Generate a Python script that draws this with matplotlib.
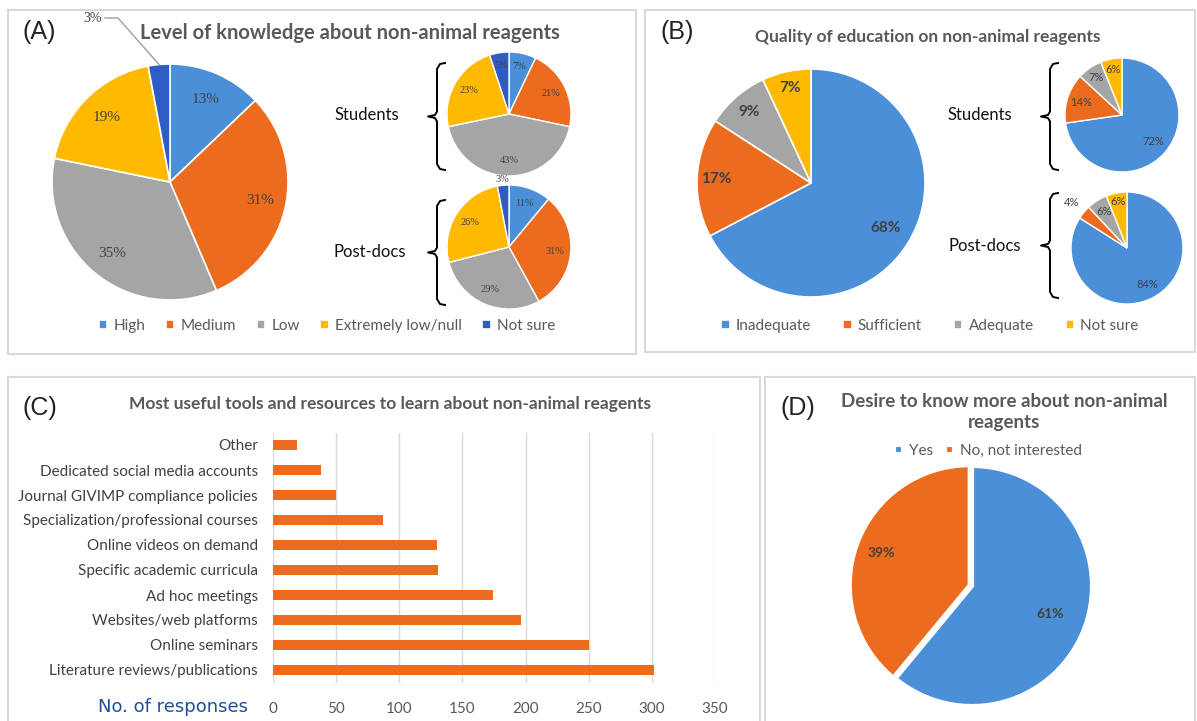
import numpy as np
import matplotlib
matplotlib.use('Agg')
from matplotlib import pyplot as plt
from matplotlib.patches import Rectangle
from matplotlib.lines import Line2D

# ---- data ----
knowledgeLevels = ['High', 'Medium', 'Low', 'Extremely low/null', 'Not sure']
knowAll = [13, 31, 35, 19, 3]
knowStudents = [7, 21, 43, 23, 5]
knowPostdocs = [11, 31, 29, 26, 3]

eduLevels = ['Inadequate', 'Sufficient', 'Adequate', 'Not sure']
eduAll = [68, 17, 9, 7]
eduStudents = [72, 14, 7, 6]
eduPostdocs = [84, 4, 6, 6]

tools = ['Literature reviews/publications', 'Online seminars', 'Websites/web platforms',
         'Ad hoc meetings', 'Specific academic curricula', 'Online videos on demand',
         'Specialization/professional courses', 'Journal GIVIMP compliance policies',
         'Dedicated social media accounts', 'Other']
toolCounts = [302, 250, 196, 174, 131, 130, 87, 50, 38, 19]
xTicks = [0, 50, 100, 150, 200, 250, 300, 350]

desireLabels = ['Yes', 'No, not interested']
desireVals = [61, 39]

blue = '#4A8FD8'
orange = '#EC6B1E'
gray = '#A5A5A5'
yellow = '#FFB900'
navy = '#2E5BC4'
knowColors = [blue, orange, gray, yellow, navy]
eduColors = [blue, orange, gray, yellow]

W, H = 1197, 721
fig = plt.figure(figsize=(W / 100, H / 100), dpi=100)
fig.patch.set_facecolor('white')

sansFont = 'Lato'
serifFont = 'Liberation Serif'
armFont = 'Liberation Sans'
txtGray = '#595959'


def fp(x, y):
    return x / W, 1 - y / H


def axPx(x0, y0, w, h):
    return fig.add_axes([x0 / W, 1 - (y0 + h) / H, w / W, h / H])


def pieAx(cx, cy, r):
    ax = axPx(cx - r, cy - r, 2 * r, 2 * r)
    ax.set_xlim(-1, 1)
    ax.set_ylim(-1, 1)
    ax.axis('off')
    return ax


def drawPie(ax, vals, colors, dists, size, font, weight='normal', color='#404040', lw=1.2, explode=None):
    wedges, _ = ax.pie(vals, colors=colors, startangle=90, counterclock=False, radius=1,
                       explode=explode, wedgeprops=dict(edgecolor='white', linewidth=lw))
    ax.set_xlim(-1, 1)
    ax.set_ylim(-1, 1)
    for w, v, d in zip(wedges, vals, dists):
        if d is None:
            continue
        a = np.deg2rad((w.theta1 + w.theta2) / 2)
        ax.text(d * np.cos(a), d * np.sin(a), f'{v}%', ha='center', va='center',
                fontsize=size, family=font, weight=weight, color=color, clip_on=False)
    return wedges


def brace(x, y0, y1):
    ym = (y0 + y1) / 2
    pts = [(x + 8, y0), (x + 3, y0 + 1), (x, y0 + 6), (x, ym - 5), (x - 2, ym - 1.5),
           (x - 9, ym), (x - 2, ym + 1.5), (x, ym + 5), (x, y1 - 6), (x + 3, y1 - 1), (x + 8, y1)]
    xs = [fp(*p)[0] for p in pts]
    ys = [fp(*p)[1] for p in pts]
    fig.add_artist(Line2D(xs, ys, color='black', lw=1.4, transform=fig.transFigure))


def panelBox(x0, y0, x1, y1):
    fig.add_artist(Rectangle(fp(x0, y1), (x1 - x0) / W, (y1 - y0) / H, transform=fig.transFigure,
                             fill=False, edgecolor='#D9D9D9', lw=1.5))


def ftext(x, y, s, **kw):
    fig.text(*fp(x, y), s, **kw)


# ---- panel frames ----
panelBox(8, 10, 636, 354)
panelBox(645, 10, 1195, 352)
panelBox(8, 377, 760, 725)
panelBox(765, 377, 1195, 725)

# ---- (A) ----
ftext(22, 32, '(A)', family=armFont, fontsize=18, va='center', color='#222222')
ftext(350, 33, 'Level of knowledge about non-animal reagents', family=sansFont, weight='bold',
      fontsize=14.5, color=txtGray, ha='center', va='center')

axA = pieAx(170, 182, 118)
wA = drawPie(axA, knowAll, knowColors, [0.76, 0.78, 0.78, 0.77, None], 11, serifFont)
# leader line for the small "Not sure" slice
a = np.deg2rad((wA[4].theta1 + wA[4].theta2) / 2)
edge = fig.transFigure.inverted().transform(axA.transData.transform((np.cos(a), np.sin(a))))
fig.add_artist(Line2D([fp(105, 18)[0], fp(118, 18)[0], edge[0]],
                      [fp(105, 18)[1], fp(118, 18)[1], edge[1]],
                      color='#A0A0A0', lw=1, transform=fig.transFigure))
ftext(92, 18, '3%', family=serifFont, fontsize=10, color='#404040', ha='center', va='center')

axAs = pieAx(509, 114, 62)
drawPie(axAs, knowStudents, knowColors, [0.78, 0.75, 0.75, 0.75, 0.8], 7.5, serifFont, lw=1)
axAp = pieAx(509, 247, 62)
drawPie(axAp, knowPostdocs, knowColors, [0.75, 0.75, 0.75, 0.75, 1.1], 7.5, serifFont, lw=1)

ftext(367, 115, 'Students', family=sansFont, fontsize=12, ha='center', va='center', color='#111111')
ftext(370, 252, 'Post-docs', family=sansFont, fontsize=12, ha='center', va='center', color='#111111')
brace(437, 63, 170)
brace(437, 200, 305)

axA.legend(wA, knowledgeLevels, loc='center', bbox_to_anchor=fp(327, 326), bbox_transform=fig.transFigure,
           ncol=5, frameon=False, handlelength=0.55, handleheight=0.55, handletextpad=0.4,
           columnspacing=1.35, prop=dict(family=sansFont, size=11), labelcolor=txtGray)

# ---- (B) ----
ftext(660, 32, '(B)', family=armFont, fontsize=18, va='center', color='#222222')
ftext(928, 37, 'Quality of education on non-animal reagents', family=sansFont, weight='bold',
      fontsize=12.5, color=txtGray, ha='center', va='center')

axB = pieAx(811, 183, 114)
wB = drawPie(axB, eduAll, eduColors, [0.76, 0.83, 0.83, 0.85], 11, sansFont, weight='bold')
axBs = pieAx(1122, 115, 57)
drawPie(axBs, eduStudents, eduColors, [0.72, 0.75, 0.8, 0.82], 8, sansFont, lw=1)
axBp = pieAx(1127, 248, 56)
drawPie(axBp, eduPostdocs, eduColors, [0.75, 1.28, 0.78, 0.85], 8, sansFont, lw=1, color='#404040')

ftext(980, 115, 'Students', family=sansFont, fontsize=12, ha='center', va='center', color='#111111')
ftext(985, 246, 'Post-docs', family=sansFont, fontsize=12, ha='center', va='center', color='#111111')
brace(1050, 63, 170)
brace(1050, 193, 298)

axB.legend(wB, eduLevels, loc='center', bbox_to_anchor=fp(930, 326), bbox_transform=fig.transFigure,
           ncol=4, frameon=False, handlelength=0.55, handleheight=0.55, handletextpad=0.4,
           columnspacing=2.1, prop=dict(family=sansFont, size=11), labelcolor=txtGray)

# ---- (C) ----
ftext(22, 408, '(C)', family=armFont, fontsize=18, va='center', color='#222222')
ftext(390, 404, 'Most useful tools and resources to learn about non-animal reagents', family=sansFont,
      weight='bold', fontsize=12.5, color=txtGray, ha='center', va='center')

axC = axPx(273, 432.5, 442, 250)
yPos = np.arange(len(tools))
axC.barh(yPos, toolCounts, height=0.38, color=orange, zorder=3)
axC.set_xlim(0, 350)
axC.set_ylim(-0.5, len(tools) - 0.5)
axC.set_xticks(xTicks)
axC.set_yticks(yPos)
axC.set_yticklabels(tools, family=sansFont, fontsize=11, color='#404040')
axC.set_xticklabels([str(t) for t in xTicks], family=sansFont, fontsize=11, color=txtGray)
axC.tick_params(axis='y', length=0, pad=11)
axC.tick_params(axis='x', length=0, pad=14)
axC.grid(axis='x', color='#D9D9D9', lw=1, zorder=0)
for s in axC.spines.values():
    s.set_visible(False)
ftext(173, 707, 'No. of responses', family='DejaVu Sans', fontsize=13, color='#1F4E9A',
      ha='center', va='center')

# ---- (D) ----
ftext(780, 408, '(D)', family=armFont, fontsize=18, va='center', color='#222222')
ftext(1004, 412, 'Desire to know more about non-animal\nreagents', family=sansFont, weight='bold',
      fontsize=13.5, color=txtGray, ha='center', va='center', linespacing=1.25)

axD = pieAx(972, 586, 120)
wD = drawPie(axD, desireVals, [blue, orange], [0.69, 0.8], 10, sansFont, weight='bold', lw=3,
             explode=[0, 0.02])
axD.legend(wD, desireLabels, loc='center', bbox_to_anchor=fp(988, 451), bbox_transform=fig.transFigure,
           ncol=2, frameon=False, handlelength=0.55, handleheight=0.55, handletextpad=0.4,
           columnspacing=0.8, prop=dict(family=sansFont, size=11), labelcolor=txtGray)

plt.savefig('out.png', dpi=100)
